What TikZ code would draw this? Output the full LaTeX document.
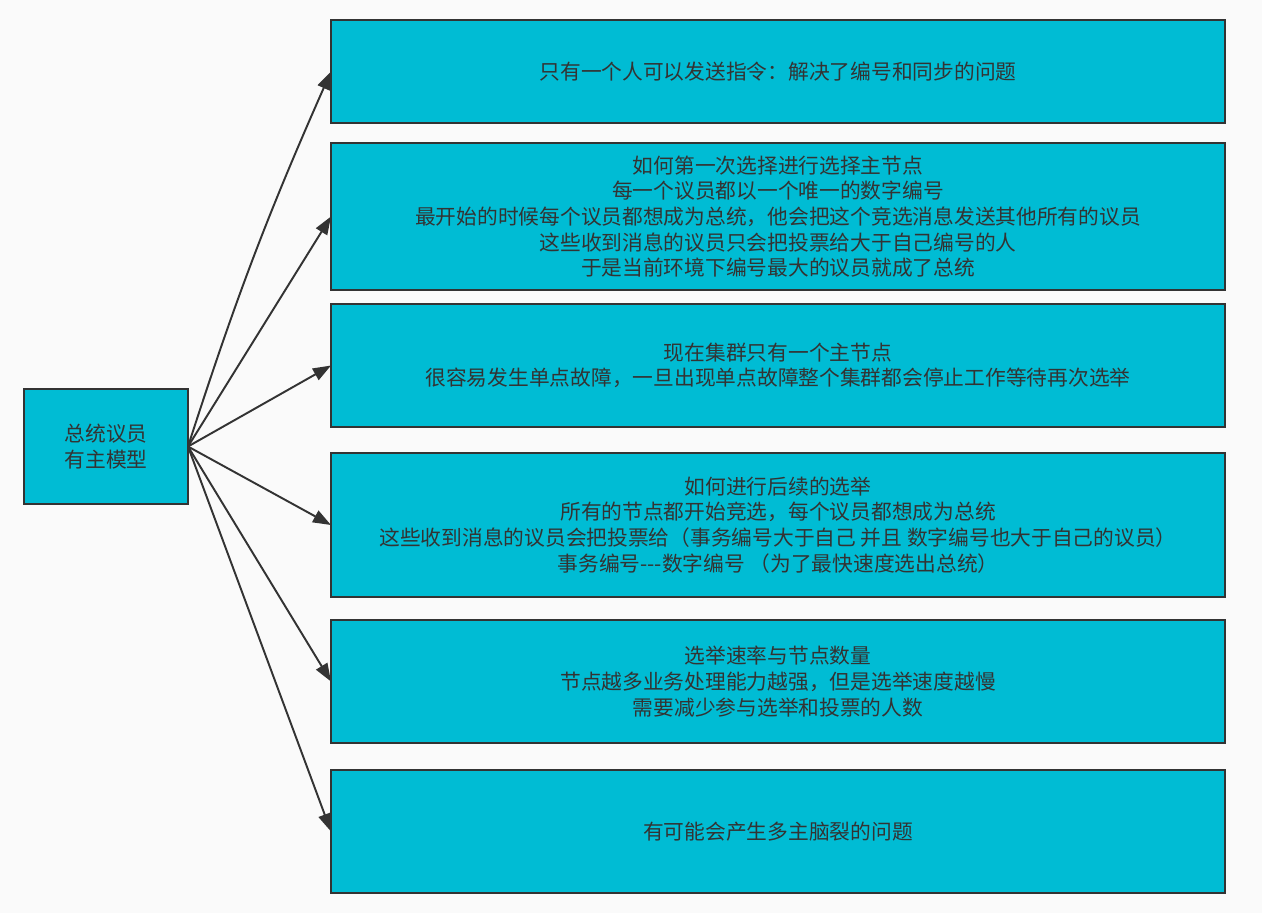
\documentclass[tikz,border=0pt]{standalone}
\usepackage{fontspec}
\newfontfamily\cjk{Noto Sans CJK SC}
\usepackage{tikz}
\usetikzlibrary{arrows.meta,positioning}
\definecolor{boxfill}{HTML}{00BCD4}
\definecolor{ink}{HTML}{333333}
\definecolor{paper}{HTML}{FAFAFA}

\begin{document}
\begin{tikzpicture}[>={Triangle[length=0.36cm,width=0.26cm]},
    topic/.style={draw=ink,fill=boxfill,line width=1.2pt,text=ink,align=center,outer sep=0pt,
      font=\cjk\fontsize{11.8pt}{14.6pt}\selectfont},
    point/.style={topic,minimum width=17.88cm,anchor=north}]
    \fill[paper] (0,0) rectangle (25.24,-18.26);
    \useasboundingbox (0,0) rectangle (25.24,-18.26);
    \node[topic,minimum width=3.28cm,minimum height=2.3cm] (m_0) at (2.12,-8.93) {总统议员\\有主模型};
    \node[point,minimum height=2.06cm] (m_1) at (15.56,-0.4) {只有一个人可以发送指令：解决了编号和同步的问题};
    \node[point,minimum height=2.94cm] (m_2) [below=0.4cm of m_1]
      {如何第一次选择进行选择主节点\\每一个议员都以一个唯一的数字编号\\最开始的时候每个议员都想成为总统，他会把这个竞选消息发送其他所有的议员\\这些收到消息的议员只会把投票给大于自己编号的人\\于是当前环境下编号最大的议员就成了总统};
    \node[point,minimum height=2.46cm] (m_3) [below=0.28cm of m_2]
      {现在集群只有一个主节点\\很容易发生单点故障，一旦出现单点故障整个集群都会停止工作等待再次选举};
    \node[point,minimum height=2.88cm] (m_4) [below=0.52cm of m_3]
      {如何进行后续的选举\\所有的节点都开始竞选，每个议员都想成为总统\\这些收到消息的议员会把投票给（事务编号大于自己 并且 数字编号也大于自己的议员）\\事务编号---数字编号 （为了最快速度选出总统）};
    \node[point,minimum height=2.46cm] (m_5) [below=0.46cm of m_4]
      {选举速率与节点数量\\节点越多业务处理能力越强，但是选举速度越慢\\需要减少参与选举和投票的人数};
    \node[point,minimum height=2.46cm] (m_6) [below=0.54cm of m_5] {有可能会产生多主脑裂的问题};
    \path[->,ink,line width=1.1pt]
    % upper edges
    (m_0.east) edge [bend left=3] (m_1.west)
    (m_0.east) edge (m_2.west)
    (m_0.east) edge (m_3.west)
    % lower edges
    (m_0.east) edge (m_4.west)
    (m_0.east) edge (m_5.west)
    (m_0.east) edge (m_6.west);
  \end{tikzpicture}
\end{document}
